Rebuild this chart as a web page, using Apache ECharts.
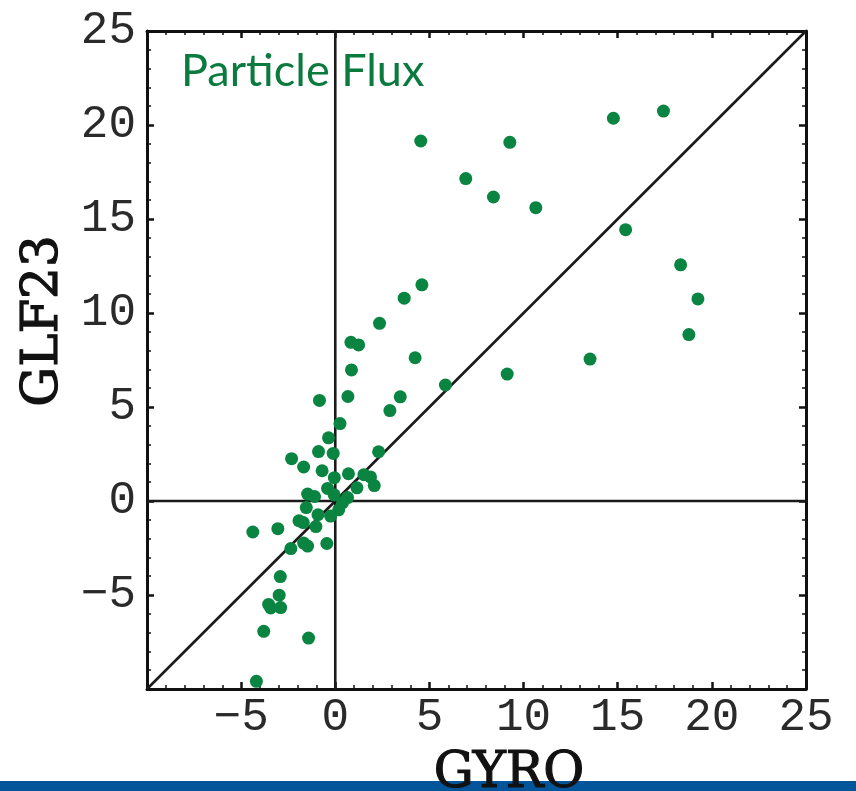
<!DOCTYPE html>
<html>
<head>
<meta charset="utf-8">
<script src="https://cdn.jsdelivr.net/npm/echarts@6/dist/echarts.min.js"></script>
<style>
html,body{margin:0;padding:0;background:#fff;}
#chart{width:856px;height:791px;}
</style>
</head>
<body>
<div id="chart"></div>
<script>
// GYRO (x) values
var gyro = [
  4.54, 9.27, 14.77, 17.43, 6.93, 8.40, 10.65, 15.42, 18.34, 19.26,
  18.78, 13.53, 9.13, 5.85, 4.60, 3.66, 2.35, 0.83, 1.24, 4.24,
  0.86, 3.45, 2.90, 0.67, -0.84, 0.25, -0.36, -0.89, -0.11, 2.30,
  -2.32, -1.68, -0.70, 0.70, -0.05, 1.52, 1.87, 2.07, 1.15, -0.41,
  -0.06, 0.65, -1.47, -1.10, -1.54, 0.39, 0.18, -0.25, -0.92, -1.93,
  -1.70, -1.03, -4.38, -3.05, -2.36, -1.68, -1.47, -0.45, -2.92, -2.98,
  -3.54, -3.43, -2.90, -3.80, -1.42, -4.19
];
// GLF23 (y) values
var glf23 = [
  19.15, 19.08, 20.36, 20.74, 17.15, 16.17, 15.60, 14.43, 12.56, 10.75,
  8.85, 7.55, 6.75, 6.17, 11.50, 10.79, 9.45, 8.44, 8.30, 7.62,
  6.97, 5.54, 4.81, 5.56, 5.35, 4.12, 3.36, 2.63, 2.53, 2.62,
  2.25, 1.81, 1.61, 1.45, 1.24, 1.40, 1.28, 0.82, 0.70, 0.67,
  0.33, 0.18, 0.37, 0.24, -0.35, -0.09, -0.47, -0.80, -0.73, -1.05,
  -1.15, -1.36, -1.65, -1.47, -2.53, -2.24, -2.40, -2.26, -4.02, -5.01,
  -5.50, -5.69, -5.67, -6.93, -7.29, -9.59
];
// reference lines (data space)
var diagLine = [[-10, -10], [25, 25]];
var xZeroLine = [[0, -10], [0, 25]];
var yZeroLine = [[-10, 0], [25, 0]];
// axis range and ticks
var axisMin = -10, axisMax = 25, axisStep = 5;
var tickLabels = ['\u22125', '0', '5', '10', '15', '20', '25'];

var points = gyro.map(function (x, i) { return [x, glf23[i]]; });

var chart = echarts.init(document.getElementById('chart'), null, {renderer: 'canvas'});

var labelFont = 'Liberation Mono';
function fmt(v) {
  if (v === axisMin) return '';
  var s = v < 0 ? '\u2212' + Math.abs(v) : String(v);
  return tickLabels.indexOf(s) >= 0 ? s : '';
}

function mkAxis(pos, showLabel) {
  return {
    type: 'value',
    position: pos,
    min: axisMin, max: axisMax, interval: axisStep,
    axisLine: {show: true, onZero: false, lineStyle: {color: '#111', width: 3}},
    axisTick: {show: true, inside: true, length: 7, lineStyle: {color: '#111', width: 2.5}},
    minorTick: {show: true, splitNumber: 5, length: 4, lineStyle: {color: '#111', width: 1.5}},
    splitLine: {show: false},
    minorSplitLine: {show: false},
    axisLabel: {
      show: showLabel,
      formatter: fmt,
      fontFamily: labelFont,
      fontSize: 46,
      color: '#2a2a2a'
    }
  };
}

var xA0 = mkAxis('bottom', true);
xA0.axisLabel.margin = 6;
var yA0 = mkAxis('left', true);
yA0.axisLabel.margin = 11;

var refStyle = {color: '#1a1a1a', width: 2.6};
var titleFont = '50px "DejaVu Serif"';

chart.setOption({
  animation: false,
  backgroundColor: '#fff',
  grid: {left: 147, right: 50, top: 31, bottom: 102, containLabel: false},
  xAxis: [xA0, mkAxis('top', false)],
  yAxis: [yA0, mkAxis('right', false)],
  series: [
    {type: 'line', data: diagLine, symbol: 'none', lineStyle: refStyle, silent: true, z: 1},
    {type: 'line', data: xZeroLine, symbol: 'none', lineStyle: refStyle, silent: true, z: 1},
    {type: 'line', data: yZeroLine, symbol: 'none', lineStyle: refStyle, silent: true, z: 1},
    {
      type: 'scatter', name: 'Particle Flux', data: points,
      symbol: 'circle', symbolSize: 13,
      itemStyle: {color: '#0a8441', opacity: 1},
      z: 3
    }
  ],
  graphic: [
    {type: 'rect', left: 0, top: 781, shape: {width: 856, height: 10}, style: {fill: '#02559a'}, z: 1},
    {type: 'text', left: 181, top: 49, z: 5,
      style: {text: 'Particle Flux', font: '45px Lato', fill: '#0b7a3e'}},
    {type: 'text', x: 509, y: 774, z: 10,
      style: {text: 'GYRO', font: titleFont, fill: '#111', stroke: '#111', lineWidth: 1.2, align: 'center', verticalAlign: 'middle'}},
    {type: 'text', x: 44, y: 321, rotation: Math.PI / 2, z: 10,
      style: {text: 'GLF23', font: titleFont, fill: '#111', stroke: '#111', lineWidth: 1.2, align: 'center', verticalAlign: 'middle'}}
  ]
});
</script>
</body>
</html>
